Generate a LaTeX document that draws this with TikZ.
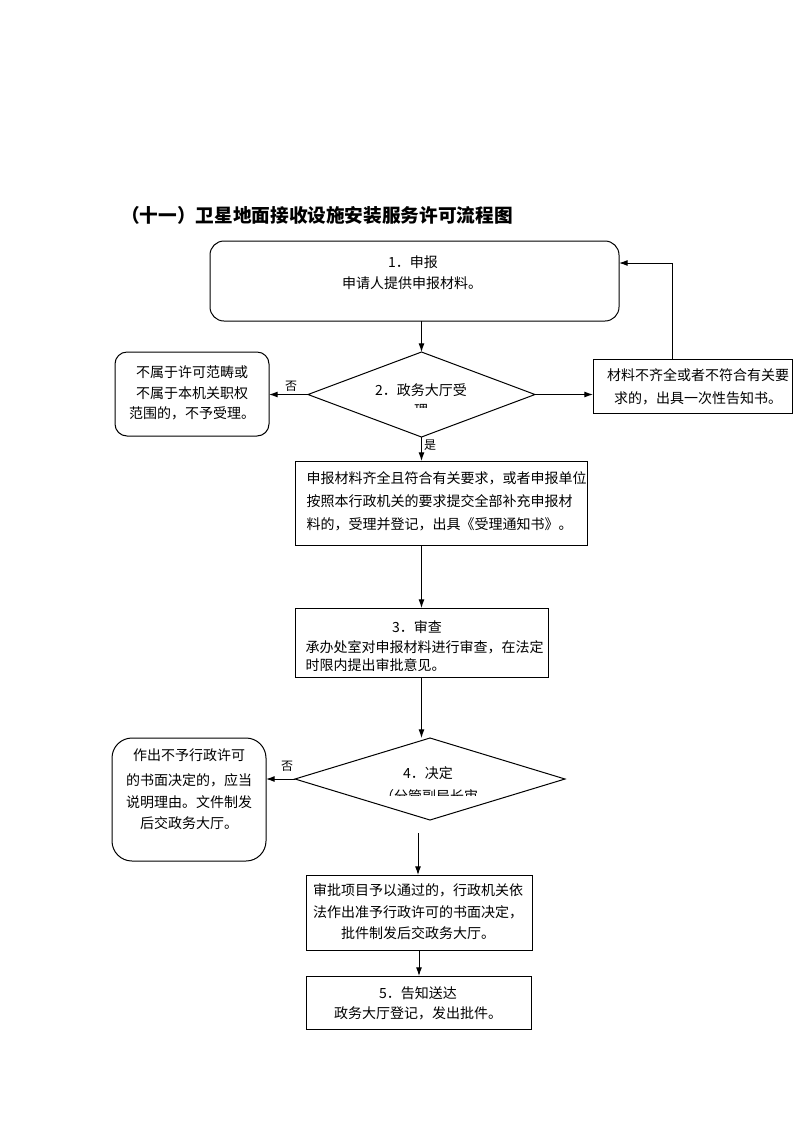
\documentclass[tikz,border=0pt]{standalone}
\usepackage{fontspec}
\setmainfont{Noto Sans CJK SC}
\usetikzlibrary{arrows.meta,shapes.geometric}
\newcommand\fsz{\fontsize{10.5pt}{14pt}\selectfont}
\begin{document}
\begin{tikzpicture}[x=0.75pt,y=-0.75pt,
  line width=0.75pt,
  sbox/.style={draw, inner sep=0pt, outer sep=0pt},
  rbox/.style={draw, inner sep=0pt, outer sep=0pt},
  dia/.style={draw, diamond, inner sep=0pt, outer sep=0pt},
  arr/.style={-{Latex[length=6.5pt,width=4.5pt]}},
  txt/.style={inner sep=0pt, font=\fsz},
  lbl/.style={inner sep=0pt, font=\fontsize{9pt}{10pt}\selectfont}]
\useasboundingbox (0,0) rectangle (793,1122);
\fill[white] (0,0) rectangle (793,1122);

% title
\node[inner sep=0pt, font=\fontsize{14pt}{16pt}\selectfont\bfseries] (title) at (317,215) {（十一）卫星地面接收设施安装服务许可流程图};

% shapes
\node[rbox, minimum width=306.75pt, minimum height=60pt, rounded corners=10.5pt] (b1) at (414.5,281) {};
\node[dia, minimum width=170.25pt, minimum height=63.75pt] (d2) at (421.5,394.5) {};
\node[rbox, minimum width=115.5pt, minimum height=63pt, rounded corners=9pt] (n1) at (192,394) {};
\node[sbox, minimum width=149.25pt, minimum height=40.5pt] (m1) at (692.5,386) {};
\node[sbox, minimum width=219pt, minimum height=63pt] (b3) at (441,503) {};
\node[sbox, minimum width=189.75pt, minimum height=51.75pt] (b4) at (421.5,642.5) {};
\node[dia, minimum width=202.5pt, minimum height=61.5pt] (d4) at (430,779) {};
\node[rbox, minimum width=115.5pt, minimum height=92.25pt, rounded corners=15pt] (n2) at (189,799.5) {};
\node[sbox, minimum width=169.5pt, minimum height=56.25pt] (b5) at (419,912.5) {};
\node[sbox, minimum width=168.75pt, minimum height=39.75pt] (b6) at (418.5,1002.5) {};

% texts
\node[txt] (t1a) at (413,262) {1．申报};
\node[txt] (t1b) at (412,283) {申请人提供申报材料。};

\node[txt] (t2a) at (421,390) {2．政务大厅受};
\begin{scope}
\clip (380,398) rectangle (460,407);
\node[txt] (t2b) at (421,410) {理};
\end{scope}

\node[txt] (n1a) at (192,372) {不属于许可范畴或};
\node[txt] (n1b) at (192,393) {不属于本机关职权};
\node[txt] (n1c) at (192,413) {范围的，不予受理。};

\node[txt] (m1a) at (698,375) {材料不齐全或者不符合有关要};
\node[txt] (m1b) at (698,398) {求的，出具一次性告知书。};

\node[txt, anchor=west] (t3a) at (306,478) {申报材料齐全且符合有关要求，或者申报单位};
\node[txt, anchor=west] (t3b) at (306,501) {按照本行政机关的要求提交全部补充申报材};
\node[txt, anchor=west] (t3c) at (306,524) {料的，受理并登记，出具《受理通知书》。};

\node[txt] (t4a) at (417,627) {3．审查};
\node[txt, anchor=west] (t4b) at (305,647) {承办处室对申报材料进行审查，在法定};
\begin{scope}
\clip (300,655) rectangle (545,670);
\node[txt, anchor=west] (t4c) at (305,665) {时限内提出审批意见。};
\end{scope}

\node[txt] (t5a) at (428,773) {4．决定};
\begin{scope}
\clip (370,785) rectangle (490,795);
\node[txt] (t5b) at (429,796) {（分管副局长审};
\end{scope}

\node[txt] (n2a) at (189,755) {作出不予行政许可};
\node[txt] (n2b) at (189,780) {的书面决定的，应当};
\node[txt] (n2c) at (189,802) {说明理由。文件制发};
\node[txt] (n2d) at (189,823) {后交政务大厅。};

\node[txt] (t6a) at (418,890) {审批项目予以通过的，行政机关依};
\node[txt] (t6b) at (418,912) {法作出准予行政许可的书面决定，};
\node[txt] (t6c) at (418,933) {批件制发后交政务大厅。};

\node[txt] (t7a) at (418,993) {5．告知送达};
\node[txt] (t7b) at (418,1013) {政务大厅登记，发出批件。};

% labels
\node[lbl] (no1) at (291,386) {否};
\node[lbl] (yes1) at (430,445) {是};
\node[lbl] (no2) at (287,766) {否};

% connectors
\draw[arr] (b1.south -| d2.north) -- (d2.north);
\draw[arr] (d2.west) -- (d2.west -| n1.east);
\draw[arr] (d2.east) -- (d2.east -| m1.west);
\coordinate (fbA) at (672,359);
\coordinate (fbB) at (672,263);
\draw[arr] (fbA) -- (fbB) -- (fbB -| b1.east);
\draw[arr] (d2.south) -- (d2.south |- b3.north);
\draw[arr] (b3.south -| b4.north) -- (b4.north);
\draw[arr] (b4.south) -- (b4.south |- d4.north);
\draw[arr] (d4.west) -- (d4.west -| n2.east);
\coordinate (d4out) at (418,833);
\draw[arr] (d4out) -- (d4out |- b5.north);
\draw[arr] (b5.south) -- (b5.south |- b6.north);
\end{tikzpicture}
\end{document}
